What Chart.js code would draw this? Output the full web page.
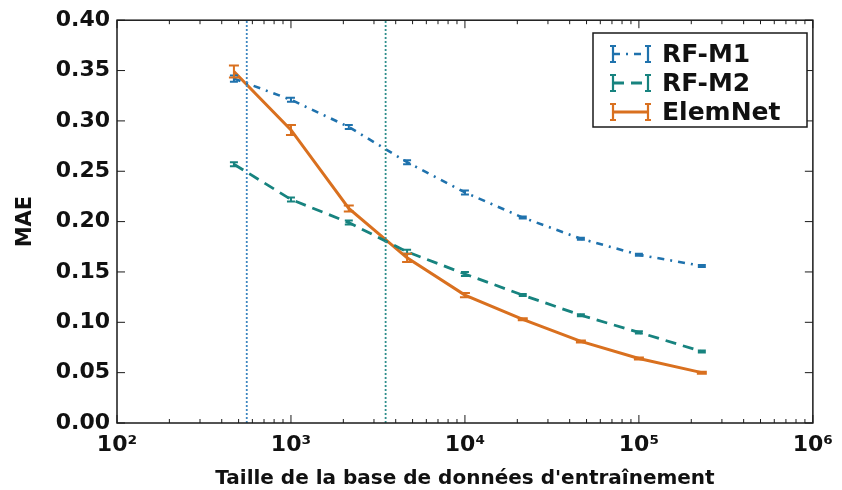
<!DOCTYPE html>
<html><head><meta charset="utf-8">
<script src="https://cdn.jsdelivr.net/npm/chart.js@4/dist/chart.umd.min.js"></script>
<style>html,body{margin:0;padding:0;background:#fff;overflow:hidden}</style>
</head><body>
<div style="width:842px;height:490px"><canvas id="c" width="842" height="490"></canvas></div>
<script>
// ---- data ----
const trainSizes = [470, 1000, 2150, 4650, 10000, 21500, 46400, 100000, 230000];
const rfM1    = [0.342, 0.321, 0.294, 0.259, 0.229, 0.204, 0.183, 0.167, 0.156];
const rfM1Err = [0.003, 0.002, 0.002, 0.002, 0.002, 0.001, 0.001, 0.001, 0.001];
const rfM2    = [0.257, 0.222, 0.199, 0.170, 0.148, 0.127, 0.107, 0.090, 0.071];
const rfM2Err = [0.002, 0.002, 0.002, 0.002, 0.002, 0.001, 0.001, 0.001, 0.001];
const elemNet    = [0.349, 0.291, 0.213, 0.164, 0.127, 0.103, 0.081, 0.064, 0.050];
const elemNetErr = [0.006, 0.005, 0.003, 0.004, 0.002, 0.001, 0.001, 0.001, 0.001];
const splitSizes = [557, 3500];
const seriesNames = ['RF-M1', 'RF-M2', 'ElemNet'];
const yTickValues = [0, 0.05, 0.10, 0.15, 0.20, 0.25, 0.30, 0.35, 0.40];
const xDecades = [100, 1000, 10000, 100000, 1000000];
const xTitle = "Taille de la base de données d'entraînement";
const yTitle = 'MAE';

const C_M1 = '#1f72ad', C_M2 = '#17837f', C_EN = '#d9701f';
const FONT = "'DejaVu Sans', sans-serif";
const sup = {'0':'⁰','1':'¹','2':'²','3':'³','4':'⁴','5':'⁵','6':'⁶','7':'⁷','8':'⁸','9':'⁹'};

function pts(ys){ return trainSizes.map((x,i)=>({x:x, y:ys[i]})); }

const datasets = [
  {label:'split1', data:[{x:splitSizes[0],y:0},{x:splitSizes[0],y:0.40}], borderColor:'#3d86c0', borderWidth:1.8, borderDash:[2,2], pointRadius:0, isSplit:true},
  {label:'split2', data:[{x:splitSizes[1],y:0},{x:splitSizes[1],y:0.40}], borderColor:'#2f8f8c', borderWidth:1.8, borderDash:[2,2], pointRadius:0, isSplit:true},
  {label:seriesNames[0], data:pts(rfM1), err:rfM1Err, borderColor:C_M1, borderWidth:2.6, borderDash:[7,6,2,6], pointRadius:0, capW:4},
  {label:seriesNames[1], data:pts(rfM2), err:rfM2Err, borderColor:C_M2, borderWidth:2.8, borderDash:[11,7], pointRadius:0, capW:4},
  {label:seriesNames[2], data:pts(elemNet), err:elemNetErr, borderColor:C_EN, borderWidth:3, pointRadius:0, capW:5}
];

const decorPlugin = {
  id:'decor',
  afterDatasetsDraw(chart){
    const ctx = chart.ctx, xs = chart.scales.x, ys = chart.scales.y, a = chart.chartArea;
    ctx.save();
    // error bars
    chart.data.datasets.forEach((ds, di)=>{
      if(!ds.err) return;
      const meta = chart.getDatasetMeta(di);
      ctx.strokeStyle = ds.borderColor; ctx.lineWidth = 2; ctx.setLineDash([]);
      meta.data.forEach((p,i)=>{
        const v = ds.data[i].y, e = ds.err[i];
        const x = p.x, y1 = ys.getPixelForValue(v+e), y2 = ys.getPixelForValue(v-e);
        ctx.beginPath();
        ctx.moveTo(x,y1); ctx.lineTo(x,y2);
        ctx.moveTo(x-ds.capW,y1); ctx.lineTo(x+ds.capW,y1);
        ctx.moveTo(x-ds.capW,y2); ctx.lineTo(x+ds.capW,y2);
        ctx.stroke();
      });
    });
    // frame
    ctx.strokeStyle = '#1a1a1a'; ctx.lineWidth = 1.5; ctx.setLineDash([]);
    ctx.strokeRect(a.left, a.top, a.right-a.left, a.bottom-a.top);
    // ticks x (inward, bottom and top)
    ctx.lineWidth = 1;
    ctx.beginPath();
    for(let d=0; d<xDecades.length; d++){
      const base = xDecades[d];
      for(let m=1; m<=9; m++){
        const v = base*m; if(v>xDecades[xDecades.length-1]) break;
        const px = xs.getPixelForValue(v);
        const L = (m===1)?8:4;
        ctx.moveTo(px, a.bottom); ctx.lineTo(px, a.bottom-L);
        ctx.moveTo(px, a.top); ctx.lineTo(px, a.top+L);
      }
    }
    yTickValues.forEach(v=>{
      const py = ys.getPixelForValue(v);
      ctx.moveTo(a.left, py); ctx.lineTo(a.left+8, py);
      ctx.moveTo(a.right, py); ctx.lineTo(a.right-8, py);
    });
    ctx.stroke();
    // legend
    const bx=593, by=33, bw=214, bh=94;
    ctx.fillStyle='#fff'; ctx.fillRect(bx,by,bw,bh);
    ctx.strokeStyle='#1a1a1a'; ctx.lineWidth=1.5; ctx.strokeRect(bx,by,bw,bh);
    const items = chart.data.datasets.filter(d=>!d.isSplit);
    items.forEach((ds,i)=>{
      const cy = 54 + i*29;
      const x1 = 613, x2 = 648;
      ctx.strokeStyle = ds.borderColor; ctx.lineWidth = ds.borderWidth;
      ctx.setLineDash(ds.borderDash||[]);
      ctx.beginPath(); ctx.moveTo(x1,cy); ctx.lineTo(x2,cy); ctx.stroke();
      ctx.setLineDash([]); ctx.lineWidth = 2.2;
      ctx.beginPath();
      [x1,x2].forEach(x=>{
        ctx.moveTo(x,cy-8); ctx.lineTo(x,cy+8);
        ctx.moveTo(x-3,cy-8); ctx.lineTo(x+3,cy-8);
        ctx.moveTo(x-3,cy+8); ctx.lineTo(x+3,cy+8);
      });
      ctx.stroke();
      ctx.fillStyle = '#111'; ctx.font = "bold 25px "+FONT;
      ctx.textBaseline = 'middle'; ctx.textAlign='left';
      ctx.fillText(ds.label, 662, cy+1);
    });
    ctx.restore();
  }
};

new Chart(document.getElementById('c'), {
  type:'line',
  data:{datasets},
  options:{
    responsive:false, animation:false,
    layout:{padding:{left:0, right:23, top:20, bottom:0}},
    plugins:{legend:{display:false}, title:{display:false}, tooltip:{enabled:false}},
    elements:{line:{tension:0}},
    scales:{
      x:{type:'logarithmic', min:100, max:1000000,
        grid:{display:false, drawTicks:false, tickLength:0}, border:{display:false},
        afterBuildTicks(s){ s.ticks = xDecades.map(v=>({value:v, major:true})); },
        afterFit(s){ s.height = 67; },
        ticks:{autoSkip:false, maxRotation:0, padding:9, color:'#111',
          font:{family:FONT, weight:'bold', size:22},
          callback(v){ const e=Math.round(Math.log10(v)); return '10'+String(e).split('').map(c=>sup[c]).join(''); }},
        title:{display:true, text:xTitle, color:'#111', font:{family:FONT, weight:'bold', size:20, lineHeight:1.1}, padding:{top:0,bottom:0}}
      },
      y:{min:0, max:0.40,
        grid:{display:false, drawTicks:false, tickLength:0}, border:{display:false},
        afterBuildTicks(s){ s.ticks = yTickValues.map(v=>({value:v})); },
        afterFit(s){ s.width = 117; },
        ticks:{padding:7, color:'#111', font:{family:FONT, weight:'bold', size:22},
          callback(v){ return Number(v).toFixed(2); }},
        title:{display:true, text:yTitle, color:'#111', font:{family:FONT, weight:'bold', size:21}, padding:{top:13,bottom:0}}
      }
    }
  },
  plugins:[decorPlugin]
});
</script>
</body></html>
